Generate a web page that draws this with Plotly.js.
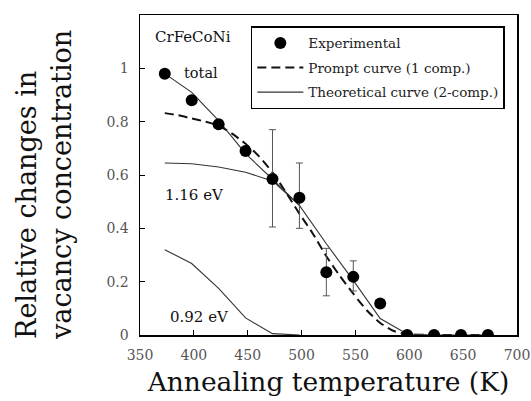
<!DOCTYPE html>
<html>
<head>
<meta charset="utf-8">
<script src="https://cdn.plot.ly/plotly-3.0.1.min.js"></script>
<style>
  html, body { margin: 0; padding: 0; background: #fff; }
  #chart { width: 531px; height: 401px; }
</style>
</head>
<body>
<div id="chart"></div>
<script>
// Annealing temperatures (K) of the isochronal steps
const temps = [373, 398, 423, 448, 473, 498, 523, 548, 573, 598, 623, 648, 673];

// Measured relative vacancy concentration and its error bars
const expVals = [0.98, 0.88, 0.79, 0.69, 0.585, 0.515, 0.235, 0.218, 0.118, 0, 0, 0, 0];
const expErrPlus = [null, null, null, null, 0.185, 0.13, 0.09, 0.06, null, null, null, null, null];
const expErrMinus = [null, null, null, null, 0.18, 0.115, 0.088, 0.053, null, null, null, null, null];

// Prompt curve, single component
const promptT = [373, 385.5, 398, 410.5, 423, 435.5, 448, 460.5, 473, 485.5, 498, 510.5,
                 523, 535.5, 548, 560.5, 573, 585.5, 598, 623, 648, 673];
const promptVals = [0.832, 0.824, 0.812, 0.80, 0.785, 0.755, 0.717, 0.67, 0.61, 0.535, 0.455, 0.38,
                    0.295, 0.222, 0.155, 0.093, 0.045, 0.015, 0.003, 0, 0, 0];

// Theoretical curve, two components: total and the two migration energies
const totalVals = [0.98, 0.91, 0.804, 0.68, 0.584, 0.486, 0.342, 0.205, 0.062, 0.004, 0, 0, 0];
const comp116T = [373, 398, 423, 448, 473, 498];
const comp116Vals = [0.645, 0.642, 0.63, 0.61, 0.578, 0.486];
const comp092T = [373, 398, 423, 448, 473, 498];
const comp092Vals = [0.32, 0.268, 0.175, 0.064, 0.005, 0];

const xTicks = [350, 400, 450, 500, 550, 600, 650, 700];
const yTicks = [0, 0.2, 0.4, 0.6, 0.8, 1];
const yTickText = ['0', '0.2', '0.4', '0.6', '0.8', '1'];

const serif = 'DejaVu Serif, serif';
const curveColor = '#333';

const traces = [
  {
    x: comp116T, y: comp116Vals, mode: 'lines', showlegend: false, hoverinfo: 'skip',
    line: { color: curveColor, width: 1.1 }
  },
  {
    x: comp092T, y: comp092Vals, mode: 'lines', showlegend: false, hoverinfo: 'skip',
    line: { color: curveColor, width: 1.1 }
  },
  {
    x: temps, y: expVals, mode: 'markers', name: 'Experimental', legendgroup: 'a', legendrank: 1,
    marker: { color: '#000', size: 12 },
    error_y: {
      type: 'data', array: expErrPlus, arrayminus: expErrMinus, symmetric: false,
      color: '#555', thickness: 1, width: 3.5
    }
  },
  {
    x: promptT, y: promptVals, mode: 'lines', name: 'Prompt curve (1 comp.)', legendgroup: 'b', legendrank: 2,
    line: { color: '#111', width: 2, dash: '9px,5px', shape: 'spline', smoothing: 0.6 }
  },
  {
    x: temps, y: totalVals, mode: 'lines', name: 'Theoretical curve (2-comp.)', legendgroup: 'c', legendrank: 3,
    line: { color: curveColor, width: 1.1 }
  }
];

// draw markers on top of the curves
const order = [0, 1, 3, 4, 2];
const data = order.map(i => traces[i]);

const layout = {
  width: 531, height: 401,
  margin: { l: 140, r: 14, t: 15, b: 66 },
  paper_bgcolor: '#fff', plot_bgcolor: '#fff',
  font: { family: serif, color: '#000' },
  showlegend: true,
  legend: {
    x: 0.294, y: 0.965, xanchor: 'left', yanchor: 'top',
    bordercolor: '#000', borderwidth: 1.5, bgcolor: '#fff',
    font: { family: serif, size: 13.5, color: '#222' },
    itemwidth: 46, tracegroupgap: 4, traceorder: 'grouped'
  },
  xaxis: {
    range: [350, 700], tickvals: xTicks, ticks: 'inside', ticklen: 5, tickcolor: '#000',
    ticklabelstandoff: 7,
    showline: true, linecolor: '#000', linewidth: 1.5, mirror: true,
    showgrid: false, zeroline: false,
    tickfont: { family: serif, size: 14, color: '#555' },
    title: { text: 'Annealing temperature (K)', font: { family: serif, size: 26.5, color: '#111' }, standoff: 10 }
  },
  yaxis: {
    range: [0, 1.2], tickvals: yTicks, ticktext: yTickText, ticks: 'inside', ticklen: 5, tickcolor: '#000',
    ticklabelstandoff: 7,
    showline: true, linecolor: '#000', linewidth: 1.5, mirror: true,
    showgrid: false, zeroline: false,
    tickfont: { family: serif, size: 14, color: '#555' }
  },
  annotations: [
    // vertical axis title, two lines aligned at their start
    {
      xref: 'paper', yref: 'paper', x: -0.255, y: -0.022, xanchor: 'center', yanchor: 'bottom',
      textangle: -90, align: 'left', showarrow: false,
      text: 'Relative changes in<br>vacancy concentration',
      font: { family: serif, size: 27, color: '#111' }
    },
    { x: 399, y: 1.116, text: 'CrFeCoNi', showarrow: false, font: { family: serif, size: 15, color: '#111' } },
    { x: 406.5, y: 0.984, text: 'total', showarrow: false, font: { family: serif, size: 14.5, color: '#111' } },
    { x: 401, y: 0.525, text: '1.16 eV', showarrow: false, font: { family: serif, size: 15, color: '#111' } },
    { x: 405, y: 0.069, text: '0.92 eV', showarrow: false, font: { family: serif, size: 15, color: '#111' } }
  ]
};

Plotly.newPlot('chart', data, layout, { staticPlot: true, displayModeBar: false });
</script>
</body>
</html>
